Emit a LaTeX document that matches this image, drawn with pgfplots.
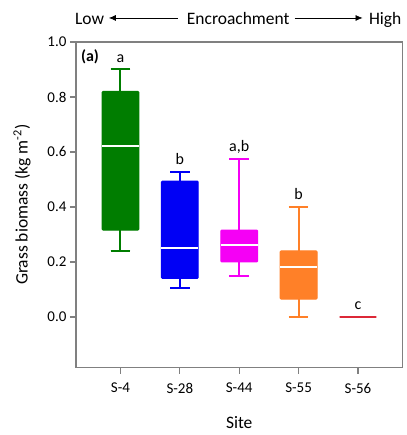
\documentclass[border=0pt]{standalone}
\usepackage{fontspec}
\setmainfont{Carlito}
\usepackage{pgfplots}
\pgfplotsset{compat=1.18}
\usepgfplotslibrary{statistics}
\usetikzlibrary{arrows.meta}
\definecolor{cgreen}{RGB}{0,125,0}
\definecolor{cblue}{RGB}{0,0,245}
\definecolor{cmag}{RGB}{245,0,245}
\definecolor{corange}{RGB}{255,128,40}
\definecolor{cred}{RGB}{220,40,55}
\definecolor{axgray}{RGB}{128,128,128}
\begin{document}
\begin{tikzpicture}
\begin{axis}[
 name=ax, scale only axis, width=327pt, height=326pt,
 xmin=-0.75, xmax=4.75, ymin=-0.184, ymax=1.0,
 xtick={0,1,2,3,4}, xticklabels={S-4,S-28,S-44,S-55,S-56},
 ytick={0,0.2,0.4,0.6,0.8,1.0},
 y tick label style={/pgf/number format/.cd, fixed, fixed zerofill, precision=1, /tikz/.cd},
 /pgf/number format/assume math mode=true,
 tick pos=left, tick align=outside, major tick length=6pt,
 tick style={axgray, line width=1.2pt},
 axis line style={axgray, line width=1.3pt},
 ticklabel style={font=\fontsize{15}{18}\selectfont},
 x tick label style={yshift=-6pt},
 xlabel={Site}, ylabel={Grass biomass (kg m\textsuperscript{-2})},
 label style={font=\fontsize{17.5}{21}\selectfont},
 xlabel style={at={(axis description cs:0.5,-0.169)}, anchor=center},
 ylabel style={at={(axis description cs:-0.165,0.5)}, anchor=center},
 clip=false,
 boxplot/draw direction=y,
 boxplot/box extend=0.62, boxplot/whisker extend=0.33,
 boxplot/every median/.style={draw=white, line width=2pt},
 boxplot/every whisker/.style={line width=2pt},
]
\addplot[draw=cgreen, fill=cgreen, line width=1pt, rounded corners=1pt, boxplot prepared={draw position=0,
  lower whisker=0.24, lower quartile=0.316, median=0.623, upper quartile=0.82, upper whisker=0.90}] coordinates {};
\addplot[draw=cblue, fill=cblue, line width=1pt, rounded corners=1pt, boxplot prepared={draw position=1,
  lower whisker=0.105, lower quartile=0.14, median=0.25, upper quartile=0.494, upper whisker=0.528}] coordinates {};
\addplot[draw=cmag, fill=cmag, line width=1pt, rounded corners=1pt, boxplot prepared={draw position=2,
  lower whisker=0.148, lower quartile=0.20, median=0.26, upper quartile=0.316, upper whisker=0.576}] coordinates {};
\addplot[draw=corange, fill=corange, line width=1pt, rounded corners=1pt, boxplot prepared={draw position=3,
  lower whisker=0.0, lower quartile=0.065, median=0.183, upper quartile=0.24, upper whisker=0.40}] coordinates {};
\addplot[draw=cred, line width=2pt, boxplot prepared={draw position=4,
  lower whisker=0, lower quartile=0, median=0, upper quartile=0, upper whisker=0,
  every median/.style={draw=cred, line width=2pt}, whisker extend=0}] coordinates {};
\begin{scope}[every node/.style={anchor=base, inner sep=0pt, font=\fontsize{16}{19}\selectfont}]
\node[yshift=7pt] at (axis cs:0,0.90) {a};
\node[yshift=7pt] at (axis cs:1,0.528) {b};
\node[yshift=7pt] at (axis cs:2,0.576) {a,b};
\node[yshift=7pt] at (axis cs:3,0.40) {b};
\node[yshift=7pt] at (axis cs:4,0) {c};
\end{scope}
\node[anchor=north west, inner sep=0pt, xshift=5pt, yshift=-7pt, font=\fontsize{16}{19}\selectfont\bfseries] at (axis description cs:0,1) {(a)};
\end{axis}
\begin{scope}[every node/.style={inner sep=0pt, font=\fontsize{17.5}{21}\selectfont}]
\node[anchor=base west] at ([xshift=-1pt,yshift=17pt]ax.north west) {Low};
\node[anchor=base] at ([xshift=162.5pt,yshift=17pt]ax.north west) {Encroachment};
\node[anchor=base east] at ([xshift=-1pt,yshift=17pt]ax.north east) {High};
\end{scope}
\draw[{Latex[length=7pt,width=6pt]}-, line width=0.7pt] ([xshift=33pt,yshift=24pt]ax.north west) -- ([xshift=102pt,yshift=24pt]ax.north west);
\draw[-{Latex[length=7pt,width=6pt]}, line width=0.7pt] ([xshift=219pt,yshift=24pt]ax.north west) -- ([xshift=287pt,yshift=24pt]ax.north west);
\path ([xshift=-76pt,yshift=-67.5pt]ax.south west) ([xshift=4pt,yshift=42pt]ax.north east);
\end{tikzpicture}
\end{document}
